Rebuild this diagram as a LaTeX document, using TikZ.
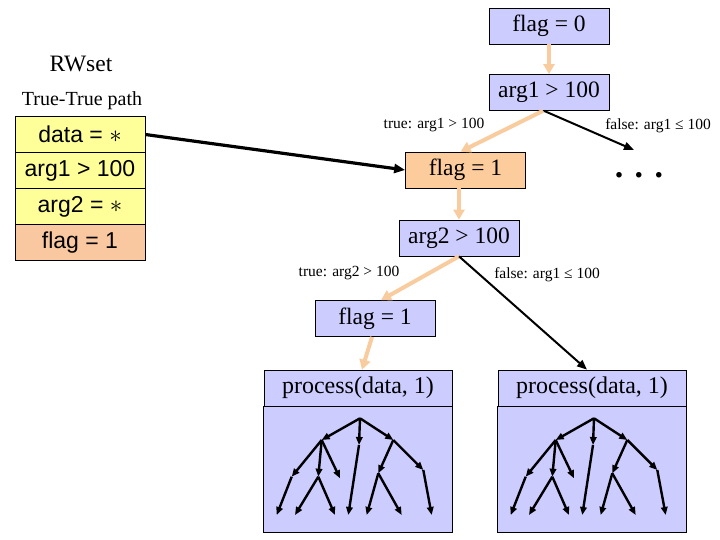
\documentclass[tikz,border=0pt]{standalone}
\usepackage{fontspec}
\setmainfont{Liberation Serif}
\newfontfamily\arialf{Liberation Sans}
\usetikzlibrary{arrows.meta}
\definecolor{lav}{RGB}{204,204,255}
\definecolor{peach}{RGB}{252,204,156}
\definecolor{orarrow}{RGB}{248,204,158}
\definecolor{pyellow}{RGB}{255,255,153}
\definecolor{prow}{RGB}{250,200,160}
\tikzset{
  cbox/.style={draw=black, line width=0.7pt, minimum width=120pt, minimum height=36pt, inner sep=0pt,
    font=\fontsize{23.5}{25}\selectfont},
  rowbox/.style={draw=black, line width=0.7pt, minimum width=130pt, minimum height=36pt, inner sep=0pt,
    font=\arialf\fontsize{23}{25}\selectfont},
  lbl/.style={font=\fontsize{15.5}{17}\selectfont, inner sep=0pt},
  oarr/.style={draw=orarrow, line width=4pt, -{Triangle[length=10pt,width=11pt]}},
  barr/.style={draw=black, line width=2pt, -{Triangle[length=10pt,width=8pt]}},
  bigarr/.style={draw=black, line width=3.2pt, -{Triangle[length=11pt,width=9pt]}},
  tarr/.style={draw=black, line width=2.4pt, -{Triangle[length=8pt,width=6.5pt]}},
  tree/.pic={
    \coordinate (-r) at (0,0);
    \coordinate (-A) at (-38.3,21.7);
    \coordinate (-B) at (-1,26.7);
    \coordinate (-C) at (33.3,21.7);
    \coordinate (-A1) at (-68.3,58.4);
    \coordinate (-A2) at (-41.7,58.4);
    \coordinate (-A3) at (-20,60);
    \coordinate (-A1a) at (-83.3,96.7);
    \coordinate (-A2a) at (-65,96.7);
    \coordinate (-A2b) at (-25,96.7);
    \coordinate (-B1) at (-11.7,96.7);
    \coordinate (-C1) at (18.3,55);
    \coordinate (-C2) at (63.3,51.7);
    \coordinate (-C1a) at (6.7,96.7);
    \coordinate (-C1b) at (41.7,96.7);
    \coordinate (-C2a) at (71.7,96.7);
    \draw[tarr] (-r) -- (-A);
    \draw[tarr] (-r) -- (-B);
    \draw[tarr] (-r) -- (-C);
    \draw[tarr] (-A) -- (-A1);
    \draw[tarr] (-A) -- (-A2);
    \draw[tarr] (-A) -- (-A3);
    \draw[tarr] (-A1) -- (-A1a);
    \draw[tarr] (-A2) -- (-A2a);
    \draw[tarr] (-A2) -- (-A2b);
    \draw[tarr] (-B) -- (-B1);
    \draw[tarr] (-C) -- (-C1);
    \draw[tarr] (-C) -- (-C2);
    \draw[tarr] (-C1) -- (-C1a);
    \draw[tarr] (-C1) -- (-C1b);
    \draw[tarr] (-C2) -- (-C2a);
  }
}
\begin{document}
\begin{tikzpicture}[x=1pt,y=-1pt]
\useasboundingbox (0,0) rectangle (720,540);
% left panel
\node[font=\fontsize{23.5}{25}\selectfont] (rw) at (81,64) {RWset};
\node[font=\fontsize{20}{22}\selectfont] (tt) at (82,101) {True-True path};
\node[rowbox, fill=pyellow] (r1) at (80,134.5) {data = $*$};
\node[rowbox, fill=pyellow] (r2) at (80,170.5) {arg1 > 100};
\node[rowbox, fill=pyellow] (r3) at (80,206.5) {arg2 = $*$};
\node[rowbox, fill=prow] (r4) at (80,242.5) {flag = 1};
% main nodes
\node[cbox, fill=lav] (f0) at (549,26) {flag = 0};
\node[cbox, fill=lav] (a1) at (549,92.5) {arg1 > 100};
\node[cbox, fill=peach] (f1) at (465.5,170) {flag = 1};
\node[cbox, fill=lav] (a2) at (459,238) {arg2 > 100};
\node[cbox, fill=lav] (f1b) at (375,318.5) {flag = 1};
\node[font=\bfseries\fontsize{34}{34}\selectfont, inner sep=0pt, anchor=base] (dots) at (639,178) {. . .};
\coordinate (dotsin) at (634,150);
% process boxes
\node[cbox, fill=lav, minimum width=188pt, font=\fontsize{24}{26}\selectfont] (pl) at (358,388) {process(data, 1)};
\node[cbox, fill=lav, minimum width=188pt, font=\fontsize{24}{26}\selectfont] (pr) at (592,388) {process(data, 1)};
\draw[line width=0.7pt, fill=lav] (pl.south west) rectangle (452,532);
\draw[line width=0.7pt, fill=lav] (pr.south west) rectangle (686,532);
\pic (tl) at (360,418.3) {tree};
\pic (tr) at (594,418.3) {tree};
% labels
\node[lbl] (l1) at (434,125) {true: arg1 > 100};
\node[lbl] (l2) at (658,126) {false: arg1 ≤ 100};
\node[lbl] (l3) at (349,273) {true: arg2 > 100};
\node[lbl] (l4) at (547,275) {false: arg1 ≤ 100};
% connectors
\draw[oarr] (f0.south) -- (a1.north);
\draw[oarr] ([xshift=-6pt]a1.south) -- ([xshift=-5pt]f1.north);
\draw[barr] ([xshift=-5pt]a1.south) -- (dotsin);
\draw[bigarr] (r1.east) -- (f1.west);
\draw[oarr] ([xshift=-6.5pt]f1.south) -- (a2.north);
\draw[oarr] (a2.south) -- ([xshift=6pt]f1b.north);
\draw[barr] (a2.south) -- ([xshift=-5pt]pr.north);
\draw[oarr] ([xshift=-3pt]f1b.south) -- ([xshift=4pt]pl.north);
\end{tikzpicture}
\end{document}
